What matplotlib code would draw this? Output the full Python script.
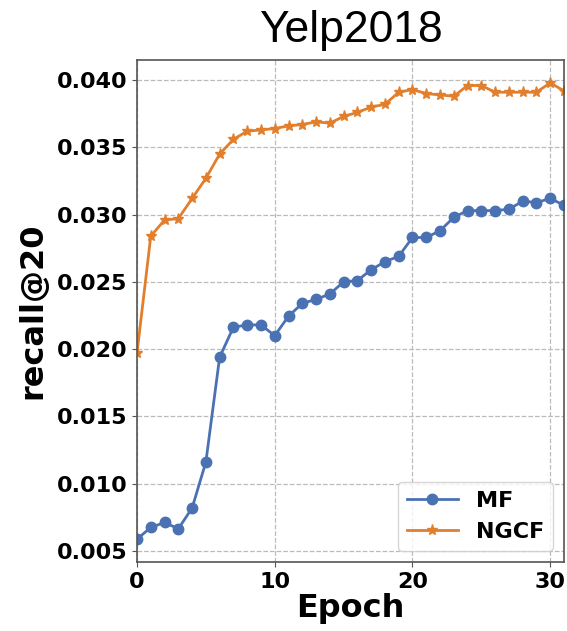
import numpy as np
import matplotlib.pyplot as plt

epochs = list(range(32))
mf = [0.00587, 0.00674, 0.00711, 0.00664, 0.00818, 0.0116, 0.0194, 0.02163,
      0.0218, 0.0218, 0.0210, 0.02245, 0.0234, 0.0237, 0.0241, 0.0250,
      0.0251, 0.0259, 0.0265, 0.0269, 0.0283, 0.0283, 0.0288, 0.0298,
      0.0303, 0.0303, 0.0303, 0.0304, 0.0310, 0.0309, 0.0312, 0.0307]
ngcf = [0.0197, 0.0284, 0.0296, 0.0297, 0.0312, 0.0327, 0.0345, 0.0356,
        0.0362, 0.0363, 0.0364, 0.0366, 0.0367, 0.0369, 0.0368, 0.0373,
        0.0376, 0.0380, 0.0382, 0.0391, 0.0393, 0.0390, 0.0389, 0.0388,
        0.0396, 0.0396, 0.0391, 0.0391, 0.0391, 0.0391, 0.0398, 0.0392]
yticks = [0.005, 0.010, 0.015, 0.020, 0.025, 0.030, 0.035, 0.040]
xticks = [0, 10, 20, 30]

fig = plt.figure(figsize=(5.67, 6.31), dpi=100)
ax = fig.add_axes([0.2416, 0.1094, 0.7531, 0.7955])

ax.plot(epochs, mf, color='#4a72b3', marker='o', markersize=7.5, linewidth=2.0, label='MF')
ax.plot(epochs, ngcf, color='#e27f2d', marker='*', markersize=8, linewidth=2.0, label='NGCF')

ax.set_xlim(0, 31)
ax.set_xticks(xticks)
ax.set_yticks(yticks)
ax.set_yticklabels(['%.3f' % v for v in yticks])
ax.grid(True, linestyle='--', color='#bbbbbb', linewidth=0.9)
ax.set_axisbelow(True)
for s in ax.spines.values():
    s.set_color('#555555')
    s.set_linewidth(1.2)
ax.tick_params(labelsize=16, color='#555555')
for lbl in ax.get_xticklabels() + ax.get_yticklabels():
    lbl.set_fontweight('bold')

ax.set_xlabel('Epoch', fontsize=23, fontweight='bold', labelpad=1)
ax.set_ylabel('recall@20', fontsize=23, fontweight='bold', labelpad=6)
ax.set_title('Yelp2018', fontsize=32, family='Liberation Sans', pad=13)

leg = ax.legend(loc='lower right', prop={'size': 16, 'weight': 'bold'}, handlelength=2.3)

fig.savefig('out.png', dpi=100)
